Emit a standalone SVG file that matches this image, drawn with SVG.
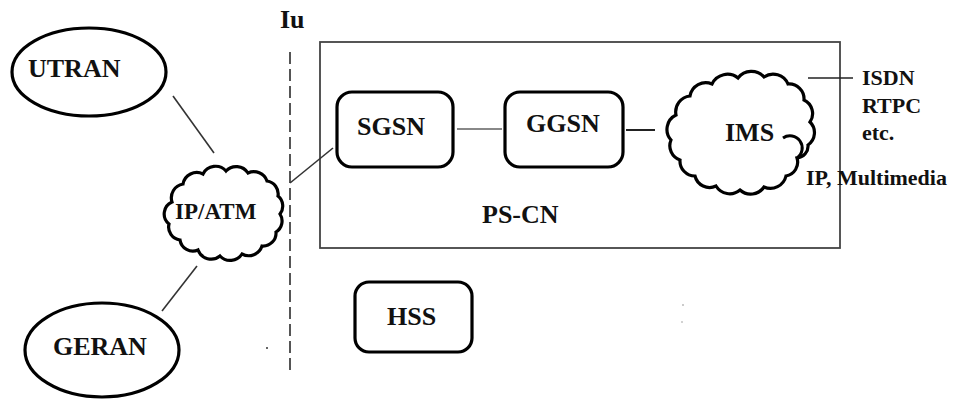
<svg xmlns="http://www.w3.org/2000/svg" width="954" height="402" viewBox="0 0 954 402">
  <style>
    .lbl { font-family: "Liberation Serif", "Times New Roman", serif; font-weight: bold; fill: #111; }
    .big { font-size: 26px; }
    .mid { font-size: 22px; }
    .shape { fill: #fff; stroke: #000; stroke-width: 3.2; }
    .link { stroke: #333; stroke-width: 1.6; fill: none; }
    .grey { stroke: #888; stroke-width: 2; fill: none; }
  </style>
  <rect width="954" height="402" fill="#fff"/>

  <!-- PS-CN frame -->
  <g id="pscn">
    <rect x="320" y="42" width="520" height="206" fill="none" stroke="#444" stroke-width="1.8"/>
    <text class="lbl big" x="482" y="223">PS-CN</text>
  </g>

  <!-- connectors -->
  <g id="connectors">
    <line class="link" x1="173" y1="96" x2="214" y2="153"/>
    <line class="link" x1="197" y1="266" x2="162" y2="311"/>
    <line x1="290" y1="52" x2="290" y2="372" stroke="#555" stroke-width="2" stroke-dasharray="12 5"/>
    <line class="link" x1="290" y1="183" x2="333" y2="148"/>
    <line class="grey" x1="457" y1="129" x2="502" y2="129"/>
    <line x1="626" y1="130" x2="655" y2="130" stroke="#222" stroke-width="2"/>
    <line x1="808" y1="78" x2="853" y2="78" stroke="#222" stroke-width="1.6"/>
  </g>

  <text class="lbl big" x="280" y="28">Iu</text>

  <g id="utran">
    <ellipse class="shape" cx="89" cy="72" rx="77" ry="44"/>
    <text class="lbl big" x="28" y="77">UTRAN</text>
  </g>

  <g id="geran">
    <ellipse class="shape" cx="102" cy="350" rx="77" ry="47"/>
    <text class="lbl big" x="53" y="355">GERAN</text>
  </g>

  <g id="ipatm">
    <path class="shape" d="M172 202 A14 14 0 0 1 183 184 A14 14 0 0 1 203 174 A14 14 0 0 1 226 171 A14 14 0 0 1 248 173 A14 14 0 0 1 267 181 A13 13 0 0 1 278 196 A13 13 0 0 1 280 214 A13 13 0 0 1 276 232 A13 13 0 0 1 262 246 A14 14 0 0 1 242 254 A14 14 0 0 1 220 256 A14 14 0 0 1 198 250 A13 13 0 0 1 180 240 A13 13 0 0 1 169 224 A13 13 0 0 1 172 202 Z"/>
    <text class="lbl" font-size="23" x="175" y="219">IP/ATM</text>
  </g>

  <g id="sgsn">
    <rect class="shape" x="337" y="92" width="116" height="75" rx="15" stroke-width="3.6"/>
    <text class="lbl big" x="357" y="135">SGSN</text>
  </g>

  <g id="ggsn">
    <rect class="shape" x="505" y="92" width="118" height="75" rx="15" stroke-width="3.6"/>
    <text class="lbl big" x="526" y="132">GGSN</text>
  </g>

  <g id="ims">
    <path class="shape" d="M671 140 A16 16 0 0 1 676 115 A16 16 0 0 1 690 96 A16 16 0 0 1 712 84 A17 17 0 0 1 738 78 A17 17 0 0 1 764 77 A16 16 0 0 1 788 84 A15 15 0 0 1 804 100 A15 15 0 0 1 810 122 A15 15 0 0 1 808 145 A12 12 0 0 1 797 158 A14 14 0 0 1 786 176 A16 16 0 0 1 764 187 A16 16 0 0 1 740 190 A16 16 0 0 1 716 186 A15 15 0 0 1 695 176 A15 15 0 0 1 680 160 A15 15 0 0 1 671 140 Z"/>
    <path d="M783 138 A12 12 0 0 1 797 158" fill="none" stroke="#000" stroke-width="3"/>
    <text class="lbl big" x="725" y="141">IMS</text>
  </g>

  <g id="external">
    <text class="lbl mid" x="862" y="85">ISDN</text>
    <text class="lbl mid" x="862" y="113">RTPC</text>
    <text class="lbl mid" x="862" y="140">etc.</text>
    <text class="lbl mid" x="806" y="185">IP, Multimedia</text>
  </g>

  <g id="hss">
    <rect class="shape" x="355" y="282" width="117" height="70" rx="14" stroke-width="3.6"/>
    <text class="lbl big" x="387" y="325">HSS</text>
  </g>

  <!-- stray specks -->
  <circle cx="267" cy="348" r="1" fill="#333"/>
  <circle cx="683" cy="305" r="0.8" fill="#888"/>
  <circle cx="682" cy="322" r="0.8" fill="#999"/>
</svg>
